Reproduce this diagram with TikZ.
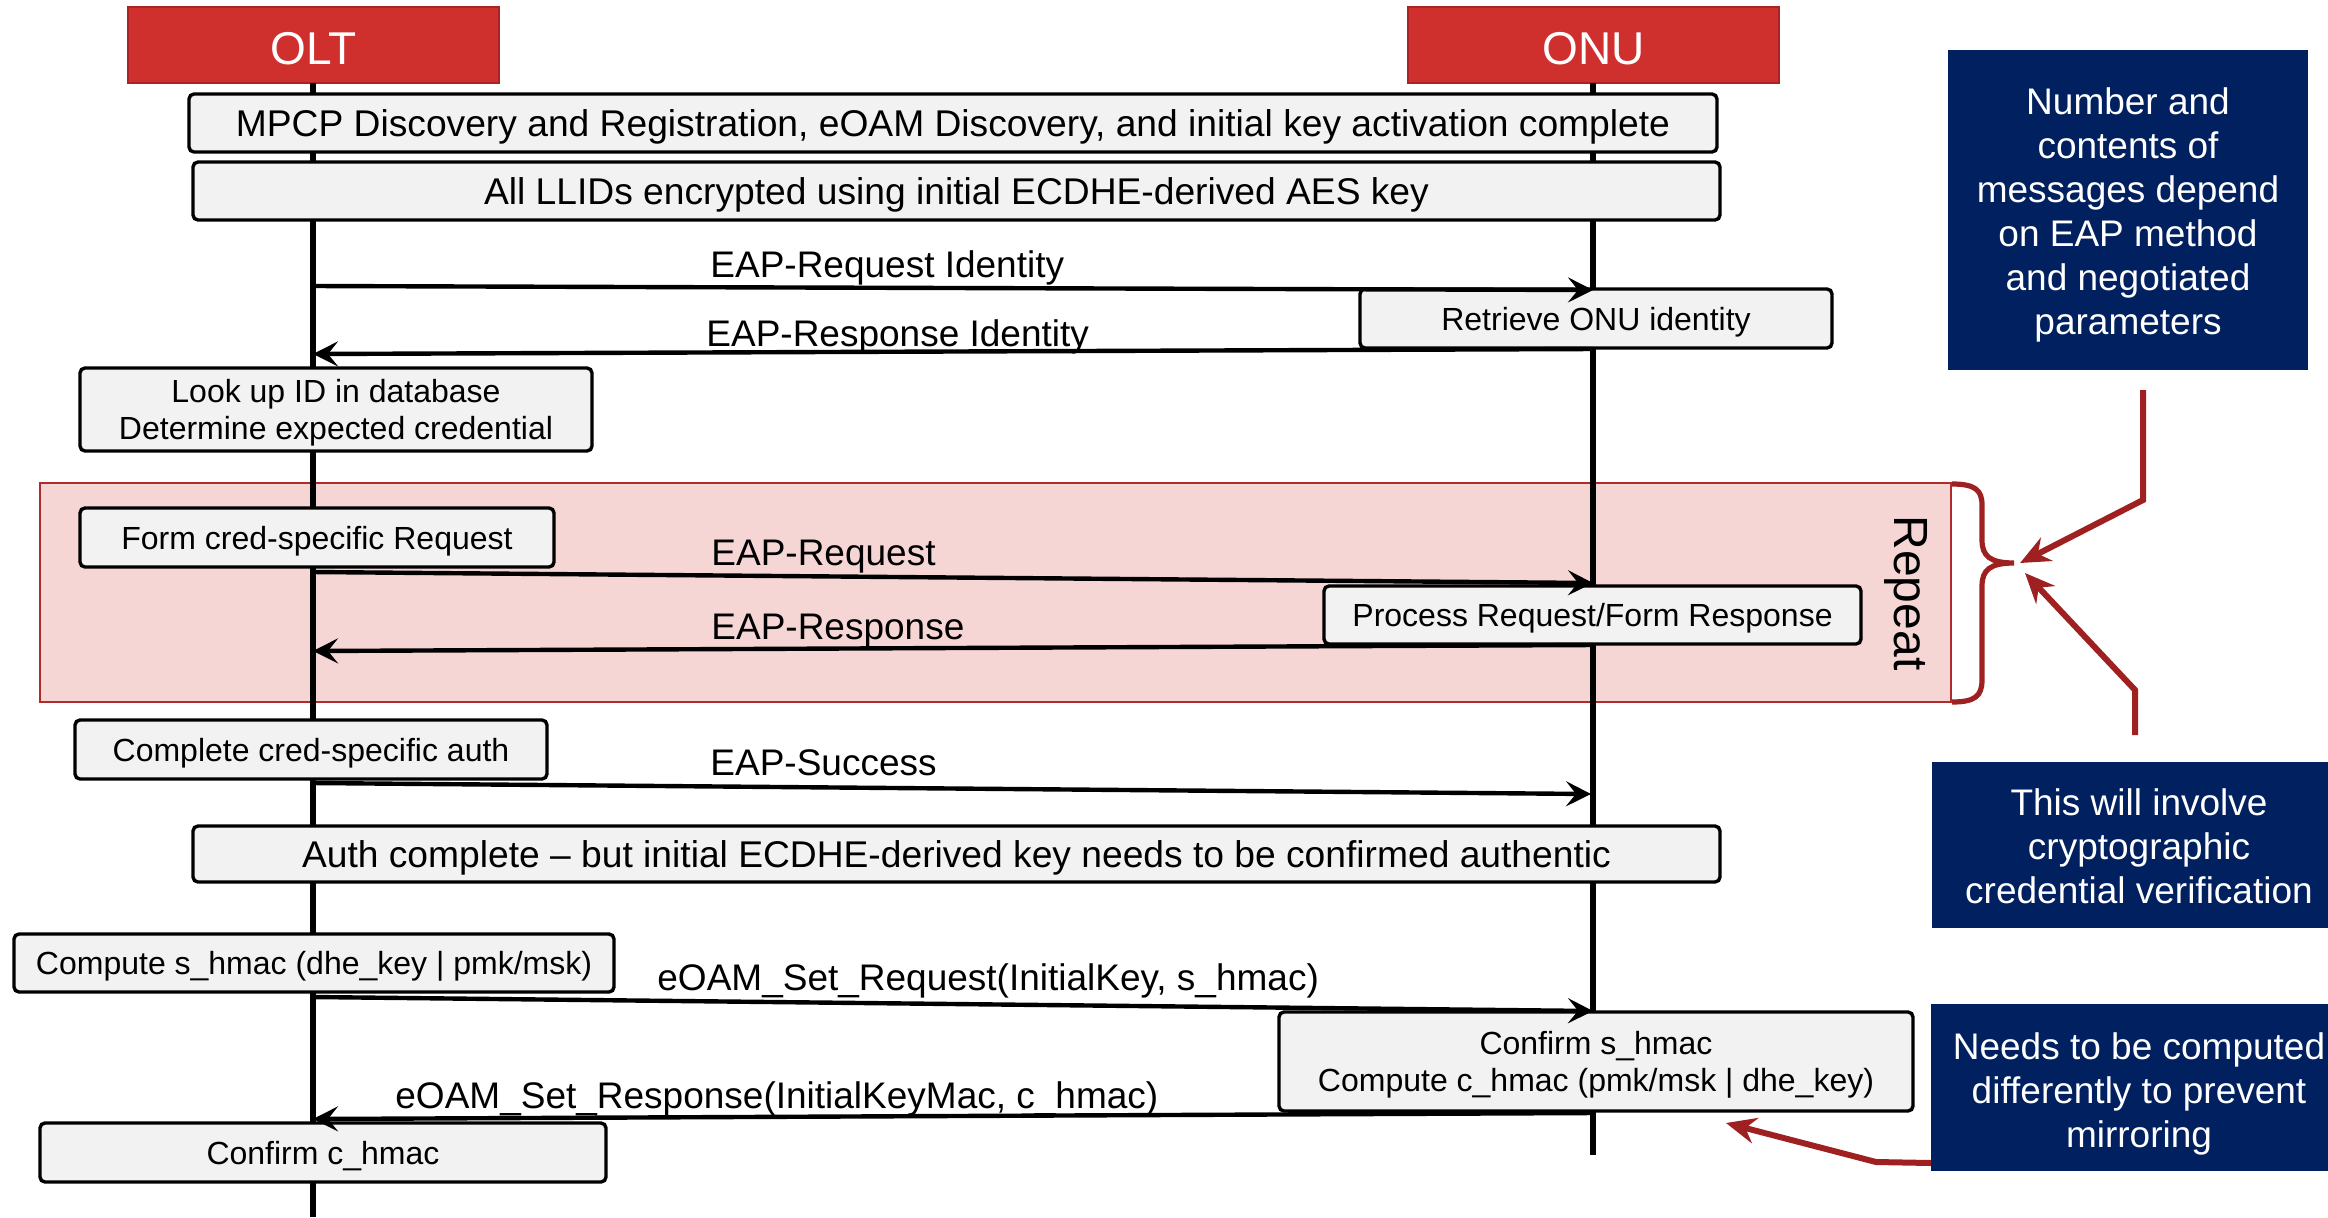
\documentclass[tikz,border=0pt]{standalone}
\usepackage{fontspec}
\setmainfont{Liberation Sans}
\usetikzlibrary{arrows.meta}
\definecolor{hdr}{RGB}{208,48,45}
\definecolor{hdrb}{RGB}{170,36,36}
\definecolor{navy}{RGB}{0,32,96}
\definecolor{pinkf}{RGB}{246,213,213}
\definecolor{pinkb}{RGB}{176,44,44}
\definecolor{dred}{RGB}{158,32,32}
\definecolor{boxf}{RGB}{242,242,242}
\begin{document}
\begin{tikzpicture}[x=0.5pt,y=-0.5pt,
  procbox/.style={draw=black, line width=1.7pt, fill=boxf, rounded corners=2.5pt, inner sep=0pt, align=center, text depth=0pt},
  bigtxt/.style={font=\fontsize{18.6pt}{22pt}\selectfont},
  smalltxt/.style={font=\fontsize{16pt}{18.5pt}\selectfont},
  hdrbox/.style={draw=hdrb, line width=1pt, fill=hdr, text=white, inner sep=0pt, text height=19.5pt, text depth=0pt, font=\fontsize{23pt}{27pt}\selectfont},
  navybox/.style={fill=navy, inner sep=0pt},
  navytxt/.style={text=white, align=center, inner sep=0pt, font=\fontsize{18.5pt}{22pt}\selectfont},
  msglbl/.style={anchor=base west, inner sep=0pt, font=\fontsize{18.5pt}{22pt}\selectfont},
  lifeline/.style={line width=2.8pt, black},
  msg/.style={line width=2.2pt, black, -{Stealth[length=12.5pt, width=12.5pt, inset=5pt]}},
  redarrow/.style={line width=3pt, dred, line join=miter, -{Stealth[length=15pt, width=13pt, inset=5pt]}},
]
\useasboundingbox (0,0) rectangle (2328,1217);

% repeat region
\node[draw=pinkb, line width=1pt, fill=pinkf, minimum width=955.5pt, minimum height=109.5pt, inner sep=0pt] (rep) at (995.5,592.5) {};
\node[rotate=-90, inner sep=0pt, font=\fontsize{24pt}{28pt}\selectfont] (reptxt) at (1906,593) {Repeat};

% headers
\node[hdrbox, minimum width=185.5pt, minimum height=38pt] (olt) at (313.5,45) {OLT};
\node[hdrbox, minimum width=185.5pt, minimum height=38pt] (onu) at (1593.5,45) {ONU};

% lifelines
\coordinate (oltend) at (313,1217);
\coordinate (onuend) at (1593,1155);
\draw[lifeline] (313,83) -- (oltend);
\draw[lifeline] (1593,83) -- (onuend);

% message endpoints
\coordinate (a1s) at (313,286);  \coordinate (a1e) at (1593,290);
\coordinate (a2s) at (1593,349); \coordinate (a2e) at (313,354);
\coordinate (a3s) at (313,572);  \coordinate (a3e) at (1593,583);
\coordinate (a4s) at (1593,645); \coordinate (a4e) at (313,651);
\coordinate (a5s) at (313,783);  \coordinate (a5e) at (1591,794);
\coordinate (a6s) at (313,997);  \coordinate (a6e) at (1593,1011);
\coordinate (a7s) at (1593,1113); \coordinate (a7e) at (313,1119);

% process boxes
\node[procbox, bigtxt, minimum width=764pt, minimum height=29pt] (mpcp) at (953,123) {MPCP Discovery and Registration, eOAM Discovery, and initial key activation complete};
\node[procbox, bigtxt, minimum width=763.5pt, minimum height=29pt] (llid) at (956.5,191) {All LLIDs encrypted using initial ECDHE-derived AES key};
\node[procbox, smalltxt, minimum width=236pt, minimum height=29.5pt] (retr) at (1596,318.5) {Retrieve ONU identity};
\node[procbox, smalltxt, minimum width=256pt, minimum height=41.5pt] (look) at (336,409.5) {Look up ID in database\\Determine expected credential};
\node[procbox, smalltxt, minimum width=237pt, minimum height=29.5pt] (form) at (317,537.5) {Form cred-specific Request};
\node[procbox, smalltxt, minimum width=268.5pt, minimum height=29pt] (proc) at (1592.5,615) {Process Request/Form Response};
\node[procbox, smalltxt, minimum width=236pt, minimum height=29.5pt] (compl) at (311,749.5) {Complete cred-specific auth};
\node[procbox, bigtxt, minimum width=763.5pt, minimum height=28pt] (auth) at (956.5,854) {Auth complete -- but initial ECDHE-derived key needs to be confirmed authentic};
\node[procbox, smalltxt, minimum width=300pt, minimum height=29pt] (comp) at (314,963) {Compute s\_hmac (dhe\_key | pmk/msk)};
\node[procbox, smalltxt, minimum width=317pt, minimum height=49.5pt] (conf) at (1596,1061.5) {Confirm s\_hmac\\Compute c\_hmac (pmk/msk | dhe\_key)};
\node[procbox, smalltxt, minimum width=283pt, minimum height=29.5pt] (confc) at (323,1152.5) {Confirm c\_hmac};

% messages
\draw[msg] (a1s) -- (a1e);
\draw[msg] (a2s) -- (a2e);
\draw[msg] (a3s) -- (a3e);
\draw[msg] (a4s) -- (a4e);
\draw[msg] (a5s) -- (a5e);
\draw[msg] (a6s) -- (a6e);
\draw[msg] (a7s) -- (a7e);

\node[msglbl] (l1) at (710,277) {EAP-Request Identity};
\node[msglbl] (l2) at (706,346) {EAP-Response Identity};
\node[msglbl] (l3) at (711,565) {EAP-Request};
\node[msglbl] (l4) at (711,639) {EAP-Response};
\node[msglbl] (l5) at (710,775) {EAP-Success};
\node[msglbl] (l6) at (657,990) {eOAM\_Set\_Request(InitialKey, s\_hmac)};
\node[msglbl] (l7) at (395,1108) {eOAM\_Set\_Response(InitialKeyMac, c\_hmac)};

% brace
\coordinate (brtip) at (2014,563);
\draw[dred, line width=2.6pt] (1952,484) .. controls (1975,484) and (1982,490) .. (1982,505)
  -- (1982,540) .. controls (1982,556) and (1990,563) .. (brtip)
  .. controls (1990,563) and (1982,570) .. (1982,586)
  -- (1982,680) .. controls (1982,696) and (1975,702) .. (1952,702);

% navy notes
\node[navybox, minimum width=180pt, minimum height=160pt] (n1) at (2128,210) {};
\node[navytxt] (n1t) at (2128,215) {Number and\\contents of\\messages depend\\on EAP method\\and negotiated\\parameters};
\node[navybox, minimum width=198pt, minimum height=83pt] (n2) at (2130,845) {};
\node[navytxt] (n2t) at (2139,846) {This will involve\\cryptographic\\credential verification};
\node[navybox, minimum width=198.5pt, minimum height=83.5pt] (n3) at (2129.5,1087.5) {};
\node[navytxt] (n3t) at (2139,1094) {Needs to be computed\\differently to prevent\\mirroring};

% red pointers
\coordinate (r1s) at (2143,390);
\coordinate (r1m) at (2143,500);
\coordinate (r1e) at (2020,563);
\coordinate (r2s) at (2135,735);
\coordinate (r2m) at (2135,690);
\coordinate (r2e) at (2025,573);
\coordinate (r3s) at (1931,1163);
\coordinate (r3m) at (1876,1162);
\coordinate (r3e) at (1726,1123);
\draw[redarrow] (r1s) -- (r1m) -- (r1e);
\draw[redarrow] (r2s) -- (r2m) -- (r2e);
\draw[redarrow] (r3s) -- (r3m) -- (r3e);
\end{tikzpicture}
\end{document}
